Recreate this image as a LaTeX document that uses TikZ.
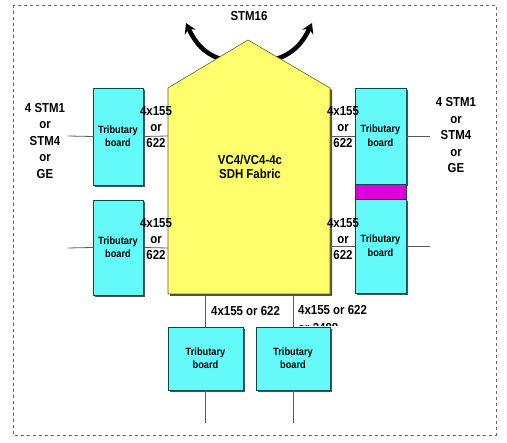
\documentclass[tikz,border=0pt]{standalone}
\usepackage{fontspec}
\setmainfont{Liberation Sans}
\newfontfamily\narrowsans[FakeStretch=0.88]{Liberation Sans}
\usetikzlibrary{shadows,arrows.meta}
\definecolor{fabyel}{RGB}{255,255,110}
\definecolor{tribcyan}{RGB}{100,250,250}
\definecolor{bandmag}{RGB}{220,0,220}
\definecolor{shadowgray}{RGB}{80,80,80}
\definecolor{linegray}{RGB}{90,90,90}
\tikzset{
  x=1pt, y=-1pt,
  shd/.style={drop shadow={shadow xshift=2pt, shadow yshift=-2pt, fill=shadowgray, opacity=1}},
  trib/.style={draw=teal!60!black, line width=0.5pt, fill=tribcyan, shd, inner sep=0pt,
    align=center, font=\narrowsans\fontsize{10.5}{13.5}\selectfont\bfseries},
  conn/.style={draw=linegray, line width=0.8pt},
  lbl/.style={align=center, font=\narrowsans\fontsize{13}{16.5}\selectfont\bfseries, inner sep=0pt},
  rate/.style={align=center, font=\narrowsans\fontsize{13}{15.8}\selectfont\bfseries, inner sep=0pt},
  bigarrow/.style={line width=4.5pt, -{Stealth[length=10pt,width=12pt]}},
}
\begin{document}
\begin{tikzpicture}
\useasboundingbox (0,0) rectangle (507,443);
\draw[gray!80!black, dashed, dash pattern=on 3pt off 3pt, line width=0.6pt] (13,5) rectangle (496,435);

% STM16 arrows (behind fabric)
\coordinate (al) at (224,60);
\coordinate (ar) at (273,60);
\coordinate (tl) at (186,23);
\coordinate (tr) at (312,23);
\draw[bigarrow] (al) to[out=165, in=-65] (tl);
\draw[bigarrow] (ar) to[out=15, in=-115] (tr);
\node[lbl] (stm16) at (249,16) {STM16};

% fabric
\path[draw=olive!60!black, line width=0.6pt, fill=fabyel, shd]
  (168,88) -- (248,40) -- (330,88) -- (330,294) -- (168,294) -- cycle;
\coordinate (fl1) at (168,136);
\coordinate (fl2) at (168,248);
\coordinate (fr1) at (330,136);
\coordinate (fr2) at (330,246);
\coordinate (fb1) at (205,294);
\coordinate (fb2) at (293,294);
\node[lbl, font=\narrowsans\fontsize{13}{14.5}\selectfont\bfseries] (fab) at (250,167) {VC4/VC4-4c\\SDH Fabric};

% label cut off at the board's top edge
\begin{scope}
\clip (290,300) rectangle (350,325.5);
\node[rate, anchor=west] (or2488) at (298,328) {or 2488};
\end{scope}

% left boards
\node[trib, minimum width=50pt, minimum height=97pt] (lb1) at (118,136.5) {Tributary\\board};
\node[trib, minimum width=50pt, minimum height=95pt] (lb2) at (118,247.5) {Tributary\\board};
% right boards
\node[trib, minimum width=51pt, minimum height=96pt] (rb1) at (380.5,136) {Tributary\\board};
\node[draw=teal!60!black, line width=0.5pt, fill=bandmag, minimum width=51pt, minimum height=15pt, inner sep=0pt] (band) at (380.5,191.5) {};
\node[trib, minimum width=51pt, minimum height=94pt] (rb2) at (380.5,246) {Tributary\\board};
% bottom boards
\node[trib, minimum width=75pt, minimum height=63pt] (bb1) at (205.5,358.5) {Tributary\\board};
\node[trib, minimum width=74pt, minimum height=63pt] (bb2) at (293,358.5) {Tributary\\board};

% external coordinates
\coordinate (el1) at (68,136);
\coordinate (el2) at (68,248);
\coordinate (er1) at (430,136);
\coordinate (er2) at (430,246);
\coordinate (eb1) at (205,423);
\coordinate (eb2) at (293,423);

% connectors
\draw[conn] (el1) -- (lb1.west);
\draw[conn] (el2) -- (lb2.west);
\draw[conn] (lb1.east) -- (fl1);
\draw[conn] (lb2.east) -- (fl2);
\draw[conn] (fr1) -- (rb1.west);
\draw[conn] (fr2) -- (rb2.west);
\draw[conn] (rb1.east) -- (er1);
\draw[conn] (rb2.east) -- (er2);
\draw[conn] (fb1) -- (fb1 |- bb1.north);
\draw[conn] (fb2) -- (fb2 |- bb2.north);
\draw[conn] (eb1 |- bb1.south) -- (eb1);
\draw[conn] (eb2 |- bb2.south) -- (eb2);

% rate labels
\node[rate] (rl1) at (156,127) {4x155\\or\\622};
\node[rate] (rl2) at (156,239) {4x155\\or\\622};
\node[rate] (rr1) at (343,127) {4x155\\or\\622};
\node[rate] (rr2) at (343,239) {4x155\\or\\622};
\node[rate, anchor=west] (rb1l) at (211,311) {4x155 or 622};
\node[rate, anchor=west] (rb2l) at (298,310) {4x155 or 622};

% side labels
\node[lbl] (lside) at (45,141) {4 STM1\\or\\STM4\\or\\GE};
\node[lbl] (rside) at (456,135.5) {4 STM1\\or\\STM4\\or\\GE};
\end{tikzpicture}
\end{document}
